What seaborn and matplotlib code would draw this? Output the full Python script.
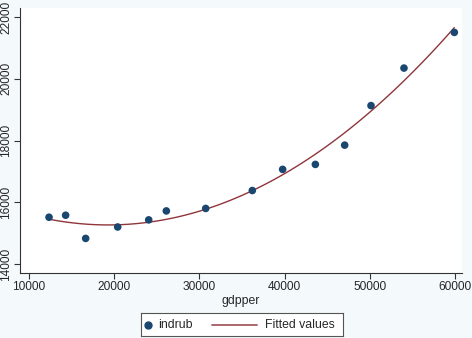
import matplotlib
matplotlib.use("Agg")
import matplotlib.pyplot as plt
import seaborn as sns
import numpy as np
import pandas as pd

# Data
gdpper = [12350, 14300, 16650, 20410, 24050, 26120, 30740, 36210,
          39770, 43610, 47050, 50140, 54010, 59920]
indrub = [15516, 15580, 14830, 15200, 15430, 15720, 15800, 16380,
          17065, 17226, 17850, 19130, 20345, 21500]
legend_labels = ["indrub", "Fitted values"]

df = pd.DataFrame({"gdpper": gdpper, "indrub": indrub})

DOT = "#1a476f"
LINE = "#90353b"
OUTER = "#f4fafc"

sns.set_style("white")
plt.rcParams["font.family"] = ["Liberation Sans", "DejaVu Sans"]

fig = plt.figure(figsize=(4.72, 3.38), dpi=100, facecolor=OUTER)
ax = fig.add_axes([20 / 472, 1 - 273 / 338, 442 / 472, 265 / 338])
ax.set_facecolor("white")

# quadratic fit + scatter
sns.regplot(data=df, x="gdpper", y="indrub", order=2, ci=None, scatter=False,
            line_kws={"color": LINE, "lw": 1.0}, ax=ax)
sns.scatterplot(data=df, x="gdpper", y="indrub", color=DOT, s=30,
                edgecolor="none", ax=ax, zorder=3)

ax.set_xlim(8944, 60820)
ax.set_ylim(13710, 22290)
ax.set_xticks([10000, 20000, 30000, 40000, 50000, 60000])
ax.set_yticks([14000, 16000, 18000, 20000, 22000])
ax.tick_params(axis="both", direction="out", length=4, width=0.8,
               color="#333333", labelsize=8.6, pad=2, left=True, bottom=True)
ax.tick_params(axis="y", pad=1.5)
for lab in ax.get_yticklabels():
    lab.set_rotation(90)
    lab.set_va("center")
ax.set_xlabel("gdpper", fontsize=8.8, labelpad=1)
ax.set_ylabel("")

for side in ["top", "right"]:
    ax.spines[side].set_visible(False)
for side in ["left", "bottom"]:
    ax.spines[side].set_color("#333333")
    ax.spines[side].set_linewidth(0.8)

# Stata-style legend box below the plot
lax = fig.add_axes([141 / 472, 1 - 336 / 338, 202 / 472, 23 / 338])
lax.set_xlim(0, 1)
lax.set_ylim(0, 1)
lax.set_xticks([])
lax.set_yticks([])
lax.set_facecolor("white")
for sp in lax.spines.values():
    sp.set_visible(True)
    sp.set_color("#555555")
    sp.set_linewidth(0.8)
lax.plot([0.035], [0.5], "o", color=DOT, markersize=5)
lax.text(0.084, 0.48, legend_labels[0], va="center", ha="left", fontsize=8.8)
lax.plot([0.351, 0.574], [0.5, 0.5], color=LINE, lw=1.4, alpha=0.75)
lax.text(0.614, 0.48, legend_labels[1], va="center", ha="left", fontsize=8.8)

fig.savefig("out.png", dpi=100, facecolor=OUTER)
